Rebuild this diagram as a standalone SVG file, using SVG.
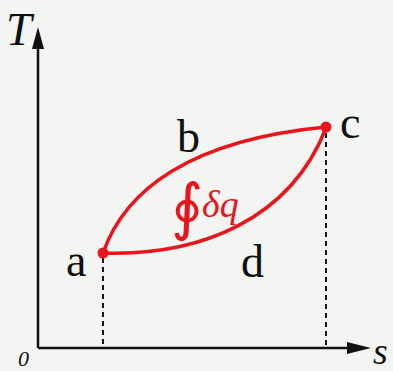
<svg xmlns="http://www.w3.org/2000/svg" width="393" height="371" viewBox="0 0 393 371">
<style>
.axis{stroke:#111;stroke-width:2.5;fill:none}
.dash{stroke:#111;stroke-width:2;stroke-dasharray:5,4;fill:none}
.curve{stroke:#e8161c;stroke-width:3.5;fill:none}
.lbl{font-family:"Liberation Serif",serif;font-size:46px;fill:#111}
.ital{font-family:"Liberation Serif",serif;font-style:italic;fill:#111}
.red{fill:#e8161c}
</style>
<rect width="393" height="371" fill="#f3f5f2"/>
<g id="axes">
<line class="axis" x1="38" y1="348" x2="38" y2="40"/>
<polygon points="38,27 32,49 44,49" fill="#111"/>
<line class="axis" x1="38" y1="348" x2="355" y2="348"/>
<polygon points="371,348 347,342 347,354" fill="#111"/>
<text class="ital" x="6" y="45" font-size="46">T</text>
<text class="ital" x="373" y="364" font-size="38">s</text>
<text class="ital" x="18" y="366" font-size="22">0</text>
</g>
<g id="connectors">
<line class="dash" x1="103" y1="258" x2="103" y2="346"/>
<line class="dash" x1="326" y1="133" x2="326" y2="346"/>
<path id="path-abc" class="curve" d="M103,253 C125,190 190,140 326,127"/>
<path id="path-adc" class="curve" d="M103,253 C200,256 290,220 326,128"/>
</g>
<g id="node-a"><circle class="red" cx="103" cy="253" r="5.5"/><text class="lbl" x="66" y="276">a</text></g>
<g id="node-b"><text class="lbl" x="177" y="152">b</text></g>
<g id="node-c"><circle class="red" cx="326" cy="127" r="5.5"/><text class="lbl" x="340" y="138">c</text></g>
<g id="node-d"><text class="lbl" x="241" y="277">d</text></g>
<g id="label-q">
<text x="171" y="228" font-family="'DejaVu Serif',serif" font-size="62" fill="#e8161c">∮</text>
<text x="202" y="217" font-family="'Liberation Serif',serif" font-style="italic" font-size="38" fill="#e8161c">δq</text>
</g>
</svg>
